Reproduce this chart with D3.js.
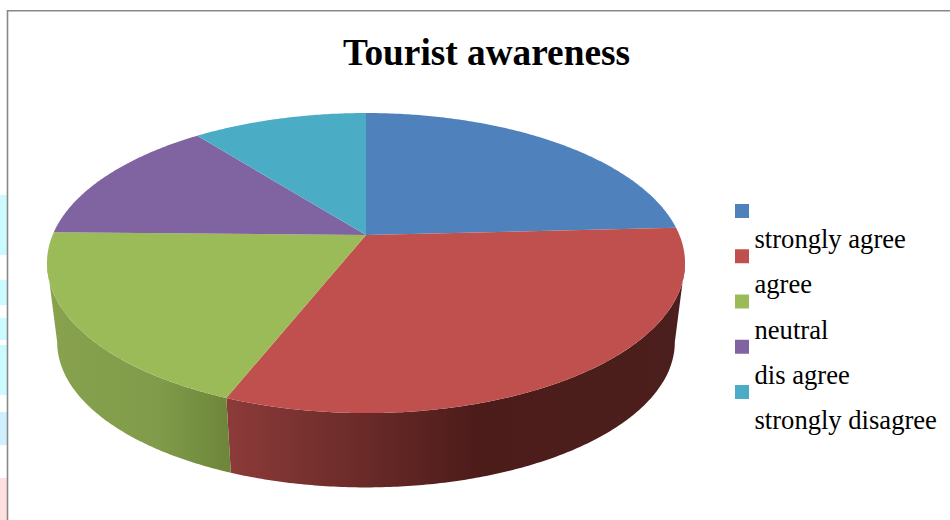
<!DOCTYPE html>
<html>
<head>
<meta charset="utf-8">
<script src="https://cdn.jsdelivr.net/npm/d3@7"></script>
<style>
  html, body { margin: 0; padding: 0; background: #fff; }
  svg { display: block; }
  text { font-family: "Liberation Serif", serif; fill: #000; }
</style>
</head>
<body>
<div id="chart"></div>
<script>
let title = 'Tourist awareness'
let categories = ['strongly agree', 'agree', 'neutral', 'dis agree', 'strongly disagree']
let values = [24.2, 31.8, 19.3, 14.1, 10.6]
let colors = ['#4f81bd', '#c0504d', '#9bbb59', '#8064a2', '#4bacc6']
// wall shading, only the slices that face the viewer show a wall
let wallStops = [
  null,
  [['0%', '#8c3b39'], ['30%', '#6a2a28'], ['55%', '#4c1c1a'], ['100%', '#4b1f1d']],
  [['0%', '#88a24e'], ['60%', '#809c4a'], ['100%', '#6d8539']],
  null,
  null
]
// bits of the page behind the chart, left of the frame
let stripTop = [195, 280, 318, 345, 412, 478]
let stripBottom = [255, 305, 340, 395, 445, 520]
let stripColors = ['#ccfbff', '#ccfbff', '#ccfbff', '#ccfbff', '#d0f0ff', '#ffe0e0']

let width = 950
let height = 520

// 3d disc: vertex of the top face, half axes, perspective, depth
let cx = 366
let cy = 235
let radX = 313.4
let radY = 144.8
let persp = 0.187
let depthY = 80
let depthScale = 0.968
// past this angle the side of the disc faces away
let wallFrom = 100.8 * Math.PI / 180
let wallTo = 259.2 * Math.PI / 180

let svg = d3.select('#chart')
  .append('svg')
  .attr('width', width)
  .attr('height', height)

let defs = svg.append('defs')

svg.selectAll('rect.strip')
  .data(stripTop)
  .enter()
  .append('rect')
  .attr('class', 'strip')
  .attr('x', 0)
  .attr('y', d => d)
  .attr('width', 7)
  .attr('height', (d, i) => stripBottom[i] - d)
  .attr('fill', (d, i) => stripColors[i])

// frame
svg.append('path')
  .attr('d', 'M7.5,520V10.8H950')
  .attr('fill', 'none')
  .attr('stroke', '#888')
  .attr('stroke-width', 1.6)

svg.append('text')
  .attr('x', 486.5)
  .attr('y', 65)
  .attr('text-anchor', 'middle')
  .attr('font-size', 37.3)
  .attr('font-weight', 'bold')
  .text(title)

let pie = d3.pie().sort(null)
let slices = pie(values)

// angle on the disc to screen position, low = false top face, true bottom face
function project(a, low) {
  let u = Math.sin(a)
  let v = Math.cos(a)
  let s = (low ? depthScale : 1) / (1 + persp * v)
  return [cx + radX * u * s, cy + (low ? depthY : 0) - radY * v * s]
}

function arcPoints(a0, a1, low) {
  let n = Math.max(2, Math.ceil((a1 - a0) / 0.01))
  return d3.range(n + 1).map(i => project(a0 + (a1 - a0) * i / n, low))
}

let line = d3.line()

// walls first
slices.forEach((s, i) => {
  let a0 = Math.max(s.startAngle, wallFrom)
  let a1 = Math.min(s.endAngle, wallTo)
  if (a1 <= a0 || !wallStops[i]) return

  let top = arcPoints(a0, a1, false)
  let bottom = arcPoints(a0, a1, true).reverse()
  let xs = top.concat(bottom).map(p => p[0])

  let grad = defs.append('linearGradient')
    .attr('id', 'wall' + i)
    .attr('gradientUnits', 'userSpaceOnUse')
    .attr('x1', d3.min(xs))
    .attr('x2', d3.max(xs))
    .attr('y1', 0)
    .attr('y2', 0)
  grad.selectAll('stop')
    .data(wallStops[i])
    .enter()
    .append('stop')
    .attr('offset', d => d[0])
    .attr('stop-color', d => d[1])

  svg.append('path')
    .attr('d', line(top.concat(bottom)) + 'Z')
    .attr('fill', 'url(#wall' + i + ')')
})

// top face
svg.selectAll('path.slice')
  .data(slices)
  .enter()
  .append('path')
  .attr('class', 'slice')
  .attr('d', d => line([[cx, cy]].concat(arcPoints(d.startAngle, d.endAngle, false))) + 'Z')
  .attr('fill', (d, i) => colors[i])

// legend, the labels sit one line lower than their squares
let legendY = d3.scalePoint()
  .domain(categories)
  .range([211, 392])

svg.selectAll('rect.key')
  .data(categories)
  .enter()
  .append('rect')
  .attr('class', 'key')
  .attr('x', 735)
  .attr('y', d => legendY(d) - 7)
  .attr('width', 14)
  .attr('height', 14)
  .attr('fill', (d, i) => colors[i])

svg.selectAll('text.label')
  .data(categories)
  .enter()
  .append('text')
  .attr('class', 'label')
  .attr('x', 754.5)
  .attr('y', d => legendY(d) + 37)
  .attr('font-size', 26.6)
  .text(d => d)
</script>
</body>
</html>
